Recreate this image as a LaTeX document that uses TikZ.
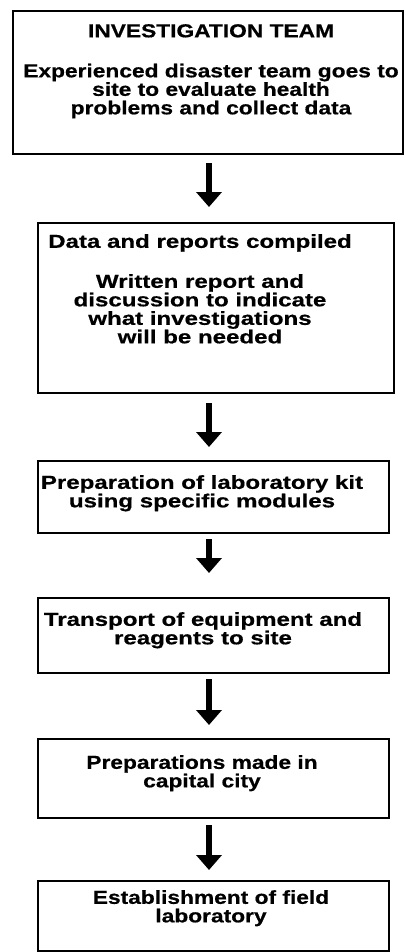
\documentclass[tikz,border=0pt]{standalone}
\usepackage{fontspec}
\newfontfamily\boxfont{Liberation Sans Bold}[FakeStretch=1.21,FakeBold=0.6]
\newfontfamily\widefont{Liberation Sans Bold}[FakeStretch=1.28,FakeBold=0.6]
\usetikzlibrary{arrows.meta}
\tikzset{
  stepbox/.style={draw=black, line width=2.4pt, inner sep=0pt, anchor=north west},
  boxtext/.style={anchor=north, inner sep=0pt, align=center, font=\boxfont\fontsize{18.8}{18.5}\selectfont},
  widetext/.style={boxtext, font=\widefont\fontsize{18.8}{18.5}\selectfont},
  flowarrow/.style={line width=6.5pt, -{Triangle[width=25pt,length=15pt]}}
}
\begin{document}
\begin{tikzpicture}[x=1pt,y=1pt]
\useasboundingbox (0,0) rectangle (406,-952);
\coordinate (ax) at (209,0);
% boxes
\node[stepbox, minimum width=390pt, minimum height=143pt] (b1) at (12,-10) {};
\node[stepbox, minimum width=356pt, minimum height=170pt] (b2) at (37,-222) {};
\node[stepbox, minimum width=351pt, minimum height=72pt] (b3) at (37,-460) {};
\node[stepbox, minimum width=351pt, minimum height=75pt] (b4) at (37,-597) {};
\node[stepbox, minimum width=351pt, minimum height=79pt] (b5) at (37,-738) {};
\node[stepbox, minimum width=351pt, minimum height=70pt] (b6) at (37,-880) {};
% texts
\node[boxtext] (t1) at (211,-24) {INVESTIGATION TEAM\\[21.5pt]Experienced disaster team goes to\\site to evaluate health\\problems and collect data};
\node[widetext] (t2) at (200,-234) {Data and reports compiled\\[21.5pt]Written report and\\discussion to indicate\\what investigations\\will be needed};
\node[widetext] (t3) at (202,-475) {Preparation of laboratory kit\\using specific modules};
\node[widetext] (t4) at (203,-612) {Transport of equipment and\\reagents to site};
\node[boxtext] (t5) at (202,-755) {Preparations made in\\capital city};
\node[boxtext] (t6) at (211,-890) {Establishment of field\\laboratory};
% arrows
\draw[flowarrow, shorten <=8pt, shorten >=15pt] (b1.south -| ax) -- (b2.north -| ax);
\draw[flowarrow, shorten <=9pt, shorten >=13pt] (b2.south -| ax) -- (b3.north -| ax);
\draw[flowarrow, shorten <=5pt, shorten >=24pt] (b3.south -| ax) -- (b4.north -| ax);
\draw[flowarrow, shorten <=5pt, shorten >=13pt] (b4.south -| ax) -- (b5.north -| ax);
\draw[flowarrow, shorten <=6pt, shorten >=10pt] (b5.south -| ax) -- (b6.north -| ax);
\end{tikzpicture}
\end{document}
